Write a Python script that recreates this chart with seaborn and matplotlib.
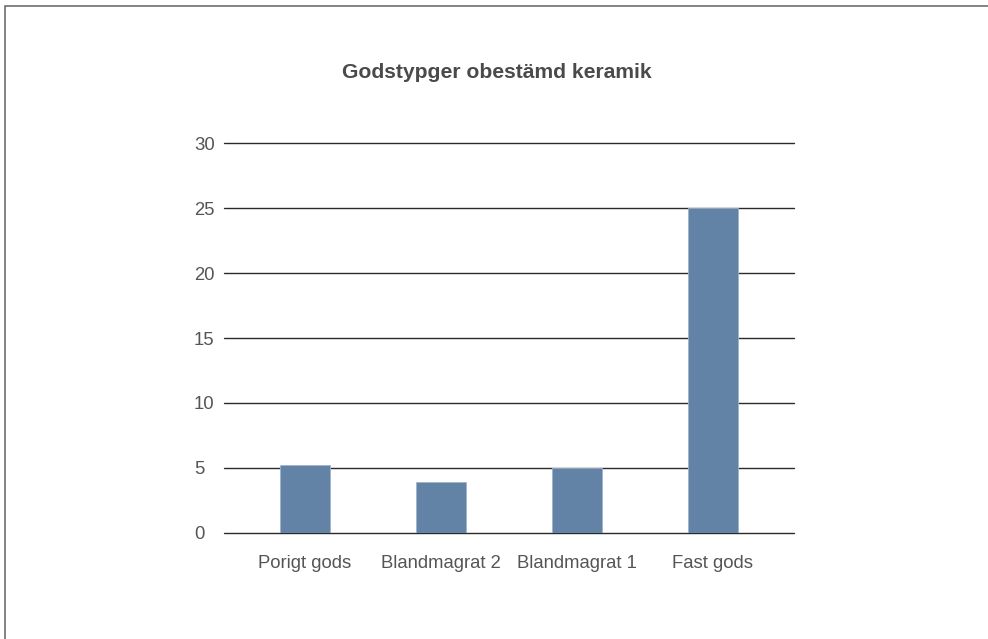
import matplotlib
matplotlib.use("Agg")
import matplotlib.pyplot as plt
import seaborn as sns
import pandas as pd
from matplotlib.patches import Rectangle

categories = ["Porigt gods", "Blandmagrat 2", "Blandmagrat 1", "Fast gods"]
values = [5.2, 3.9, 5.0, 25.0]
y_ticks = [0, 5, 10, 15, 20, 25, 30]
title = "Godstypger obestämd keramik"

df = pd.DataFrame({"category": categories, "value": values})

sns.set_theme(style="white")
plt.rcParams["font.family"] = ["Liberation Sans", "DejaVu Sans"]

W, H = 988, 639
fig = plt.figure(figsize=(W / 100, H / 100), dpi=100)
fig.patch.set_facecolor("white")

# outer frame (top and left edges visible)
fig.patches.append(Rectangle((5 / W, -0.1), 1.2, (H - 6) / H + 0.1,
                             transform=fig.transFigure, fill=False,
                             edgecolor="#6e6e6e", linewidth=1.2))

ax = fig.add_axes([224 / W, (H - 532.7) / H, (794 - 224) / W, (532.7 - 143.3) / H])

for t in y_ticks:
    ax.axhline(t, color="#2a2a2a", linewidth=1.0, clip_on=False, zorder=0)

sns.barplot(data=df, x="category", y="value", color="#6282a6",
            saturation=1, width=0.373, ax=ax,
            edgecolor="#9fb3cc", linewidth=0.6, zorder=2)

ax.set_xlim(-0.596, 3.596)
ax.set_ylim(0, 30)
ax.set_yticks(y_ticks)
ax.set_yticklabels([str(t) for t in y_ticks])
for s in ax.spines.values():
    s.set_visible(False)
ax.set_xlabel("")
ax.set_ylabel("")
ax.tick_params(axis="both", length=0, labelsize=13.3, labelcolor="#555555")
ax.tick_params(axis="x", pad=16)
ax.tick_params(axis="y", pad=21.6)
for lbl in ax.get_yticklabels():
    lbl.set_horizontalalignment("left")

fig.text(497 / W, 1 - 78 / H, title, ha="center", va="baseline",
         fontsize=15.2, fontweight="bold", color="#4a4a4a")

fig.savefig("out.png", dpi=100, facecolor="white")
